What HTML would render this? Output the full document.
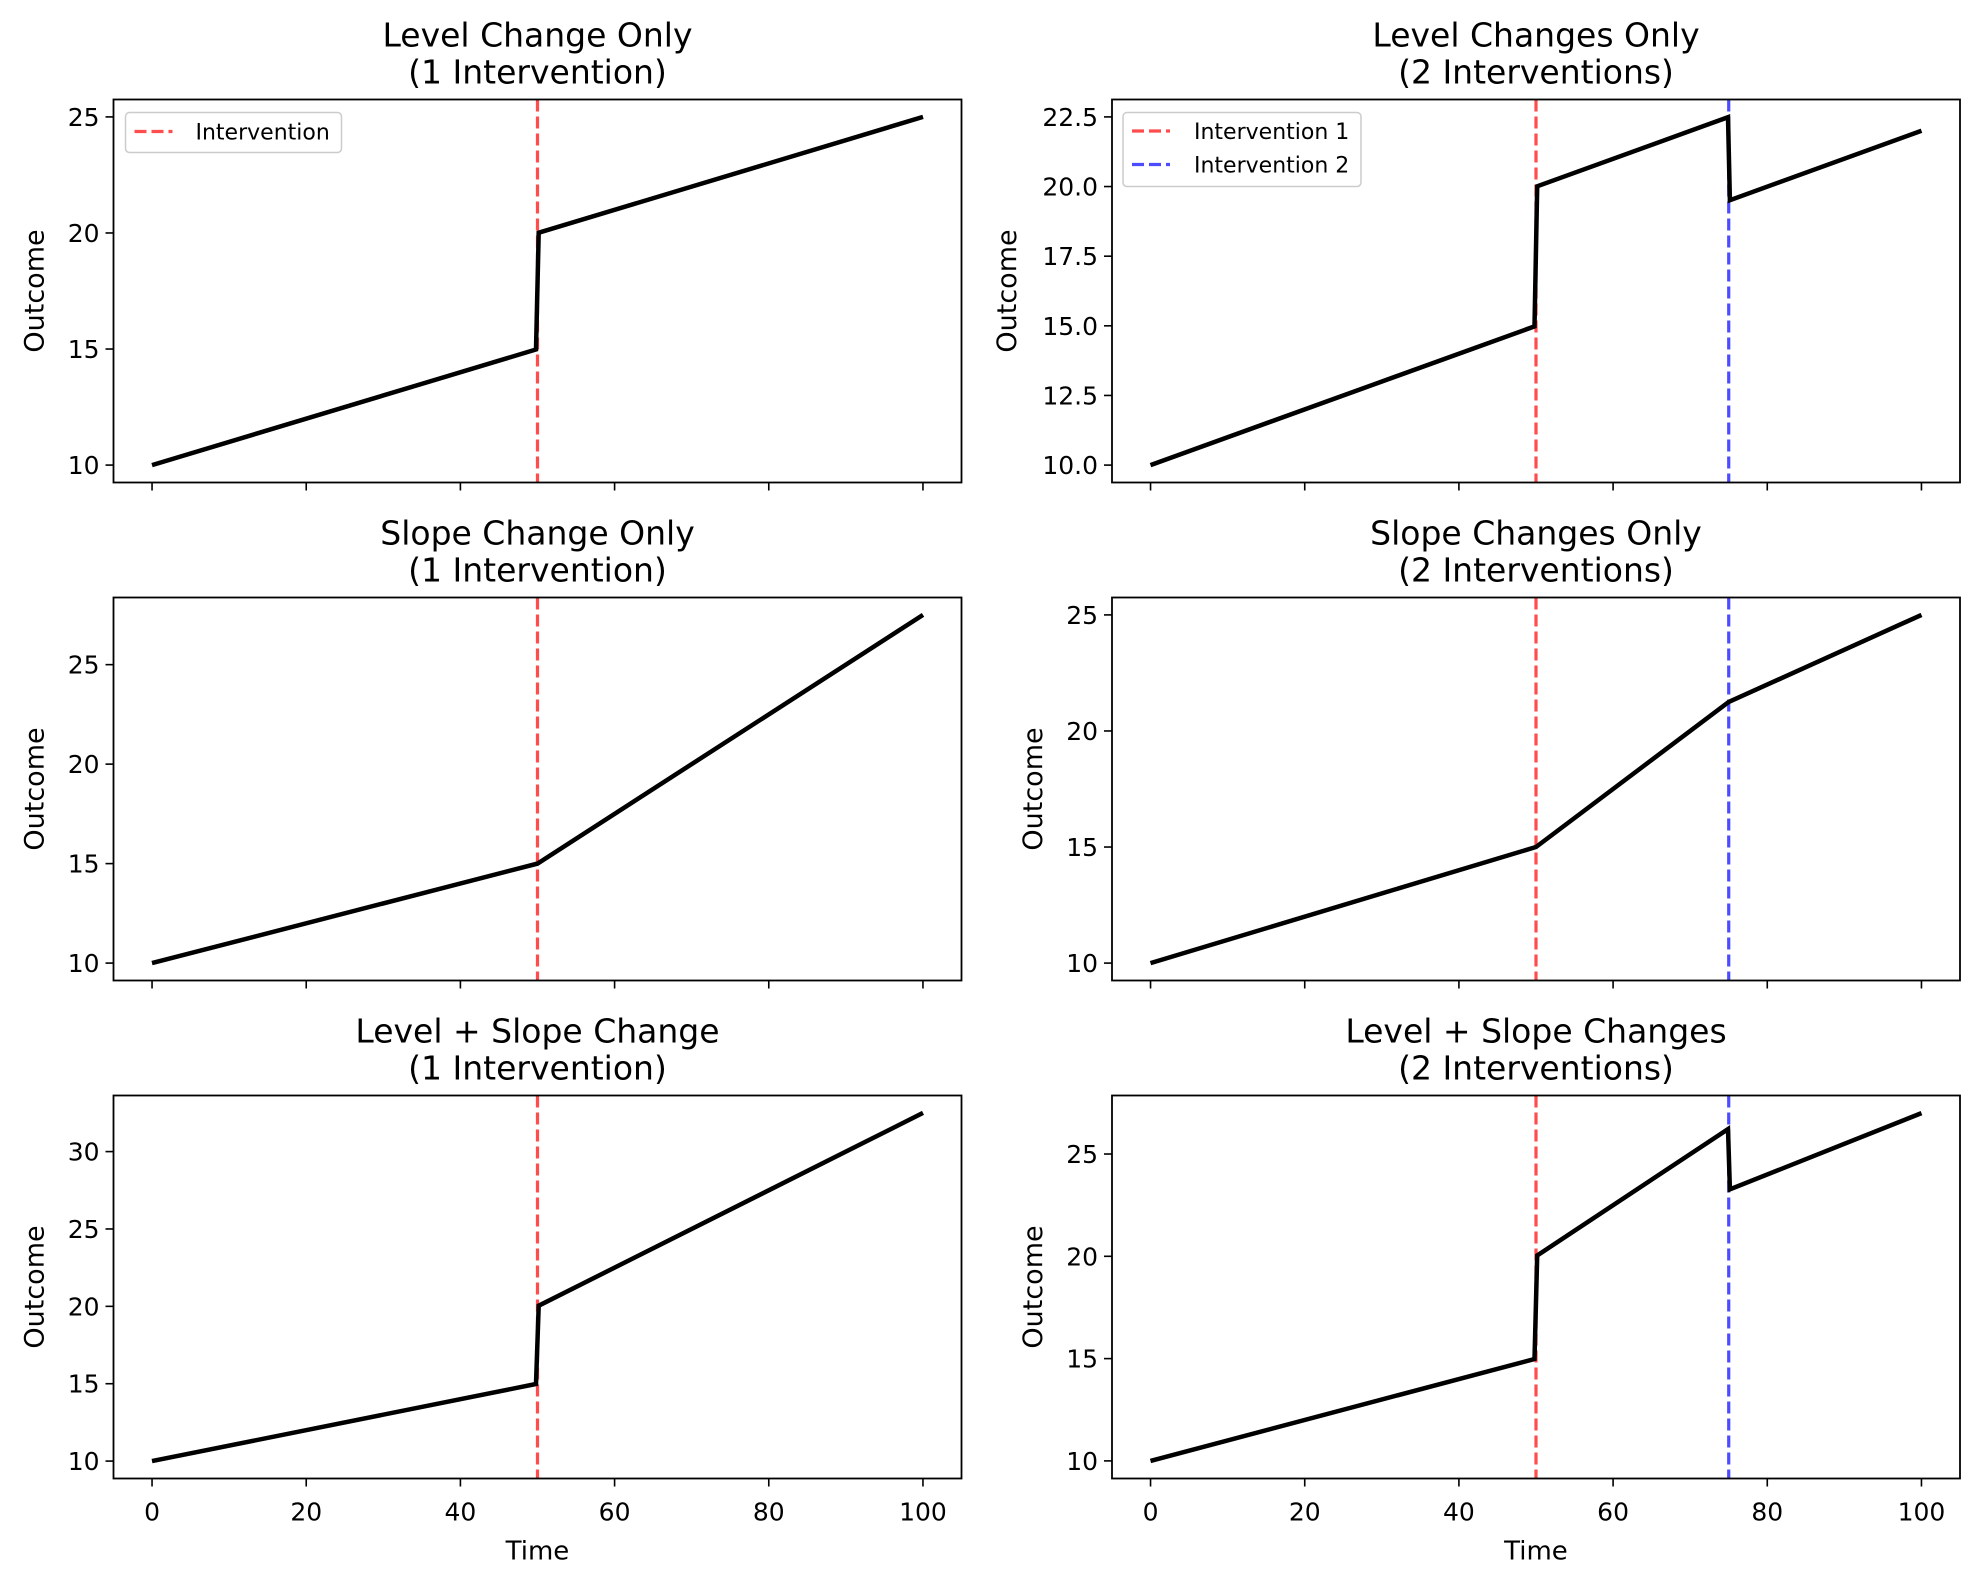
<!DOCTYPE html>
<html><head><meta charset="utf-8"><style>
html,body{margin:0;padding:0;background:#fff;}
svg{display:block;font-family:"DejaVu Sans","Liberation Sans",sans-serif;}
</style></head><body>
<svg id="s" width="1979" height="1585" viewBox="0 0 1979 1585" xmlns="http://www.w3.org/2000/svg"></svg>
<script>
var S=document.getElementById('s');var h='';
var cols=[113.5,1112],W=848,tops=[99.5,597.5,1095.5],H=383;
var panels=[
 {c:0,r:0,t1:'Level Change Only',t2:'(1 Intervention)',y0:9.25,y1:25.75,ticks:[10,15,20,25],d:[[0,10],[49.8,14.98],[50.15,20.01],[100,25]],v:[50],leg:1},
 {c:1,r:0,t1:'Level Changes Only',t2:'(2 Interventions)',y0:9.375,y1:23.125,ticks:[10,12.5,15,17.5,20,22.5],fmt:1,lo:96,d:[[0,10],[49.8,14.98],[50.15,20.01],[74.9,22.49],[75.15,19.51],[100,22]],v:[50,75],leg:2},
 {c:0,r:1,t1:'Slope Change Only',t2:'(1 Intervention)',y0:9.125,y1:28.375,ticks:[10,15,20,25],d:[[0,10],[50,15],[100,27.5]],v:[50]},
 {c:1,r:1,t1:'Slope Changes Only',t2:'(2 Interventions)',y0:9.25,y1:25.75,ticks:[10,15,20,25],d:[[0,10],[50,15],[75,21.25],[100,25]],v:[50,75]},
 {c:0,r:2,t1:'Level + Slope Change',t2:'(1 Intervention)',y0:8.875,y1:33.625,ticks:[10,15,20,25,30],d:[[0,10],[49.8,14.98],[50.15,20.04],[100,32.5]],v:[50],xl:1},
 {c:1,r:2,t1:'Level + Slope Changes',t2:'(2 Interventions)',y0:9.14,y1:27.86,ticks:[10,15,20,25],d:[[0,10],[49.8,14.98],[50.15,20.04],[74.9,26.22],[75.15,23.27],[100,27.0]],v:[50,75],xl:1}
];
panels.forEach(function(p){
 var L=cols[p.c],T=tops[p.r];
 var X=function(x){return L+(x+5)/110*W;};
 var Y=function(y){return T+H-(y-p.y0)/(p.y1-p.y0)*H;};
 var cx=L+W/2;
 h+='<text x="'+cx+'" y="'+(T-53)+'" font-size="33" text-anchor="middle">'+p.t1+'</text>';
 h+='<text x="'+cx+'" y="'+(T-16)+'" font-size="33" text-anchor="middle">'+p.t2+'</text>';
 var cl=['#ff0000','#0000ff'];
 p.v.forEach(function(v,i){h+='<line x1="'+X(v)+'" x2="'+X(v)+'" y1="'+T+'" y2="'+(T+H)+'" stroke="'+cl[i]+'" stroke-opacity="0.7" stroke-width="3.2" stroke-dasharray="12,5"/>';});
 var pts=p.d.map(function(q){return X(q[0]).toFixed(1)+','+Y(q[1]).toFixed(1);}).join(' ');
 h+='<polyline points="'+pts+'" fill="none" stroke="#000" stroke-width="4.5" stroke-linejoin="miter"/>';
 h+='<rect x="'+L+'" y="'+T+'" width="'+W+'" height="'+H+'" fill="none" stroke="#000" stroke-width="1.8"/>';
 p.ticks.forEach(function(t){var y=Y(t);h+='<line x1="'+(L-8)+'" x2="'+L+'" y1="'+y+'" y2="'+y+'" stroke="#000" stroke-width="1.6"/>';
  h+='<text x="'+(L-14)+'" y="'+(y+9)+'" font-size="25" text-anchor="end">'+(p.fmt?t.toFixed(1):t)+'</text>';});
 [0,20,40,60,80,100].forEach(function(t){var x=X(t);h+='<line x1="'+x+'" x2="'+x+'" y1="'+(T+H)+'" y2="'+(T+H+8)+'" stroke="#000" stroke-width="1.6"/>';
  if(p.xl)h+='<text x="'+x+'" y="'+(T+H+42)+'" font-size="25" text-anchor="middle">'+t+'</text>';});
 if(p.xl)h+='<text x="'+cx+'" y="'+(T+H+81)+'" font-size="26" text-anchor="middle">Time</text>';
 var lx=L-(p.lo||70),ly=T+H/2;
 h+='<text transform="translate('+lx+','+ly+') rotate(-90)" font-size="27" text-anchor="middle">Outcome</text>';
 if(p.leg==1){h+='<rect x="'+(L+12)+'" y="'+(T+13)+'" width="216" height="40" rx="4" fill="#fff" fill-opacity="0.8" stroke="#ccc" stroke-width="1.5"/>';
  h+='<line x1="'+(L+21)+'" x2="'+(L+59)+'" y1="'+(T+32)+'" y2="'+(T+32)+'" stroke="#ff0000" stroke-opacity="0.7" stroke-width="3.2" stroke-dasharray="12,5"/>';
  h+='<text x="'+(L+82)+'" y="'+(T+40)+'" font-size="22">Intervention</text>';}
 if(p.leg==2){h+='<rect x="'+(L+11)+'" y="'+(T+13)+'" width="238" height="74" rx="4" fill="#fff" fill-opacity="0.8" stroke="#ccc" stroke-width="1.5"/>';
  [['Intervention 1','#ff0000',31.5],['Intervention 2','#0000ff',65]].forEach(function(e){
  h+='<line x1="'+(L+20)+'" x2="'+(L+58)+'" y1="'+(T+e[2])+'" y2="'+(T+e[2])+'" stroke="'+e[1]+'" stroke-opacity="0.7" stroke-width="3.2" stroke-dasharray="12,5"/>';
  h+='<text x="'+(L+82)+'" y="'+(T+e[2]+8)+'" font-size="22">'+e[0]+'</text>';});}
});
S.innerHTML=h;
</script>
</body></html>
